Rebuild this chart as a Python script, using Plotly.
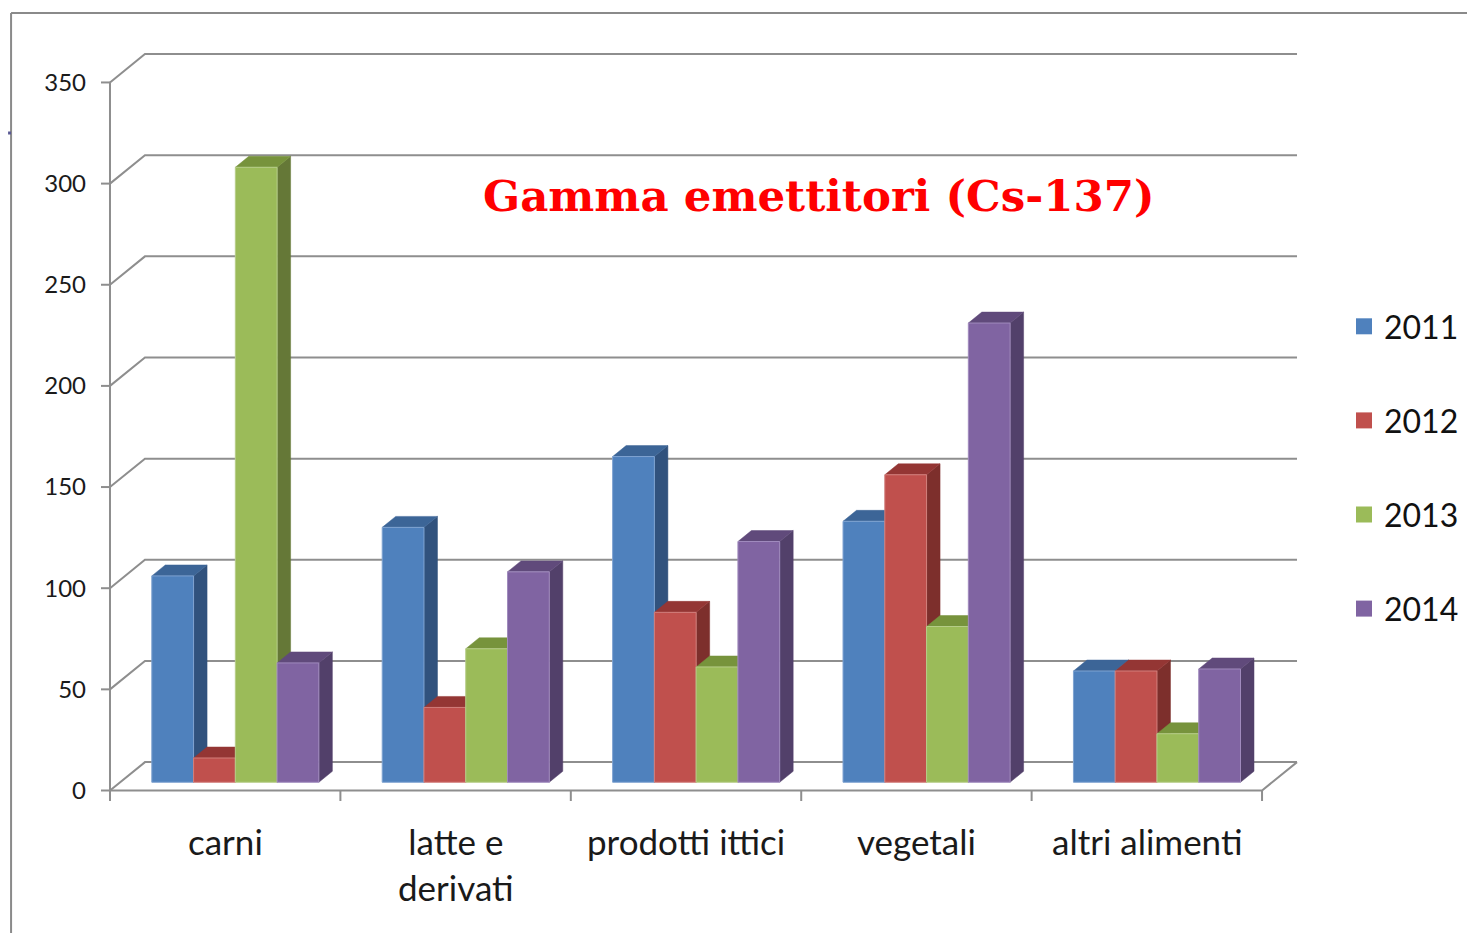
import plotly.graph_objects as go

# ---------------- data ----------------
categories = ["carni", "latte e<br>derivati", "prodotti ittici", "vegetali", "altri alimenti"]
years = ["2011", "2012", "2013", "2014"]
v2011 = [102, 126, 161, 129, 55]
v2012 = [12, 37, 84, 152, 55]
v2013 = [304, 66, 57, 77, 24]
v2014 = [59, 104, 119, 227, 56]
series_values = [v2011, v2012, v2013, v2014]
y_ticks = [0, 50, 100, 150, 200, 250, 300, 350]

front_colors = ["#4F81BD", "#C0504D", "#9BBB59", "#8064A2"]
top_colors = ["#3C6597", "#943634", "#77933C", "#604A7B"]
side_colors = ["#31527D", "#7D2F2C", "#657837", "#52406A"]
edge_colors = ["#7FA3D1", "#D27F7C", "#B6CD88", "#A08BBD"]

# ---------------- page / pseudo-3D geometry ----------------
OFF = 8                     # page body margin (screen px)
W, H = 1475 - OFF, 933 - OFF
# plot area in screen px
SL, SR, ST, SB = 95, 1310, 40, 810
ML, MR, MT, MB = SL - OFF, W - (SR - OFF), ST - OFF, H - (SB - OFF)
PX_PER_CAT = 230.6
PX_PER_UNIT = 2.023
X0_PX = 110.0          # front origin (screen x)
Y0_PX = 790.5          # front origin (screen y)
DX = 35.0 / PX_PER_CAT     # depth of walls along x
DY = 28.4 / PX_PER_UNIT    # depth of walls along y
F0, F1 = 0.29, 0.676       # bar front / back depth fraction
BW = 41.8 / PX_PER_CAT     # bar width
NCAT = len(categories)

x_range = [(SL - X0_PX) / PX_PER_CAT, (SR - X0_PX) / PX_PER_CAT]
y_range = [(Y0_PX - SB) / PX_PER_UNIT, (Y0_PX - ST) / PX_PER_UNIT]

pw = SR - SL
ph = SB - ST
def px(xs):
    return (xs - SL) / pw
def py(ys):
    return (SB - ys) / ph

GRID = "#8E8E8E"
fig = go.Figure()

# walls / gridlines
gx, gy = [], []
for v in y_ticks:
    gx += [0, DX, NCAT + DX, None]
    gy += [v, v + DY, v + DY, None]
gx += [0, NCAT, NCAT + DX, None]
gy += [0, 0, DY, None]
gx += [0, 0, None]
gy += [-5, y_ticks[-1], None]
tick_len = 9.0 / PX_PER_CAT
for v in y_ticks:
    gx += [-tick_len, 0, None]
    gy += [v, v, None]
for i in range(NCAT + 1):
    gx += [i, i, None]
    gy += [0, -5.2, None]
fig.add_trace(go.Scatter(x=gx, y=gy, mode="lines", line=dict(color=GRID, width=2),
                         hoverinfo="skip", showlegend=False))

# bars
bx = (F1 - F0) * DX
by = (F1 - F0) * DY
for s, vals in enumerate(series_values):
    fx, fy, sx, sy, tx, ty = [], [], [], [], [], []
    for i, v in enumerate(vals):
        x0 = i + 0.5 - 2 * BW + s * BW + F0 * DX
        x1 = x0 + BW
        y0 = F0 * DY
        y1 = v + F0 * DY
        fx += [x0, x1, x1, x0, x0, None]
        fy += [y0, y0, y1, y1, y0, None]
        sx += [x1, x1 + bx, x1 + bx, x1, x1, None]
        sy += [y0, y0 + by, y1 + by, y1, y0, None]
        tx += [x0, x1, x1 + bx, x0 + bx, x0, None]
        ty += [y1, y1, y1 + by, y1 + by, y1, None]
    fig.add_trace(go.Scatter(x=sx, y=sy, fill="toself", fillcolor=side_colors[s], mode="lines",
                             line=dict(color=side_colors[s], width=0.5), hoverinfo="skip", showlegend=False))
    fig.add_trace(go.Scatter(x=tx, y=ty, fill="toself", fillcolor=top_colors[s], mode="lines",
                             line=dict(color=top_colors[s], width=0.5), hoverinfo="skip", showlegend=False))
    fig.add_trace(go.Scatter(x=fx, y=fy, fill="toself", fillcolor=front_colors[s], mode="lines",
                             line=dict(color=edge_colors[s], width=1), hoverinfo="skip", showlegend=False))

# legend entries
for s, yr in enumerate(years):
    fig.add_trace(go.Scatter(x=[None], y=[None], mode="markers", name=yr, legendgroup=yr,
                             marker=dict(symbol="square", size=18, color=front_colors[s])))

# category labels
for i, c in enumerate(categories):
    fig.add_annotation(x=i + 0.5, xref="x", y=py(818), yref="paper", yanchor="top",
                       text=c, showarrow=False,
                       font=dict(family="Lato", size=35, color="#1a1a1a"))

# title
fig.add_annotation(x=px(819.5), xref="paper", y=py(196), yref="paper",
                   xanchor="center", yanchor="middle", showarrow=False,
                   text="<b>Gamma emettitori (Cs-137)</b>",
                   font=dict(family="DejaVu Serif", size=43.5, color="#FF0000"))

fig.update_layout(
    width=W, height=H,
    margin=dict(l=ML, r=MR, t=MT, b=MB, pad=0),
    paper_bgcolor="white", plot_bgcolor="white",
    xaxis=dict(range=x_range, showgrid=False, zeroline=False, showline=False,
               showticklabels=False, ticks="", fixedrange=True),
    yaxis=dict(range=y_range, showgrid=False, zeroline=False, showline=False,
               tickmode="array", tickvals=y_ticks, ticktext=[str(t) for t in y_ticks],
               ticks="", ticklabelstandoff=8,
               tickfont=dict(family="Lato", size=24, color="#1a1a1a"), fixedrange=True),
    legend=dict(x=px(1344), y=py(299), xanchor="left", yanchor="top",
                font=dict(family="Lato", size=32, color="#111111"),
                tracegroupgap=49.5, bgcolor="rgba(0,0,0,0)"),
    shapes=[
        dict(type="line", xref="paper", yref="paper", x0=px(11), x1=px(1475), y0=py(13), y1=py(13),
             line=dict(color="#8A8A8A", width=2)),
        dict(type="line", xref="paper", yref="paper", x0=px(11), x1=px(11), y0=py(13), y1=py(940),
             line=dict(color="#8A8A8A", width=2)),
        dict(type="line", xref="paper", yref="paper", x0=px(8), x1=px(11), y0=py(133), y1=py(133),
             line=dict(color="#5A5A94", width=3)),
    ],
)

fig.write_html("out.html")
